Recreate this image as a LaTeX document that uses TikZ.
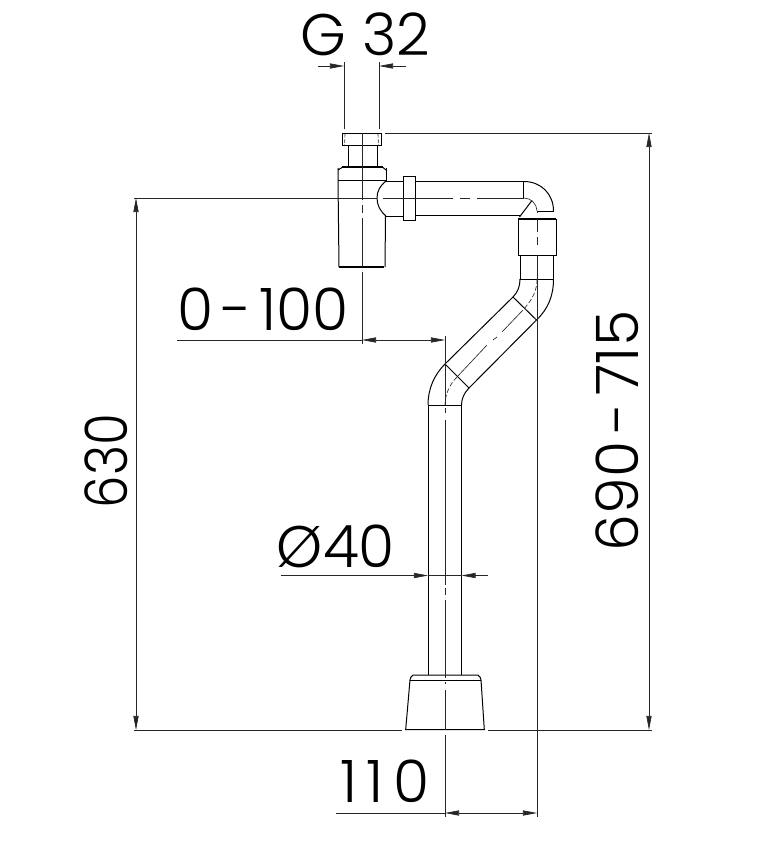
\documentclass[tikz,border=0pt]{standalone}
\usepackage{fontspec}
\setmainfont{Poppins Light}
\newfontfamily\dimspaced[WordSpace=0.5]{Poppins Light}
\usetikzlibrary{arrows.meta}

\begin{document}
\begin{tikzpicture}[x=0.03cm, y=-0.03cm]
\def\dimfontsize{\fontsize{50}{50}\selectfont}
\tikzset{
  outline/.style={draw=black, line width=0.85pt},
  heavy/.style={draw=black, line width=2.2pt},
  thinline/.style={draw=black!85, line width=0.55pt},
  dimline/.style={thinline, {Triangle[length=12pt, width=4.4pt]}-{Triangle[length=12pt, width=4.4pt]}},
  tipline/.style={thinline, -{Triangle[length=12pt, width=4.4pt]}},
  dimtext/.style={inner sep=0pt, text=black, font=\dimfontsize},
}
\useasboundingbox (0,0) rectangle (763,856);

\begin{scope} % TRAP
\draw[outline] (342,133) rectangle (381,145);
\draw[thinline, dash pattern=on 3pt off 1.5pt] (345,134) -- (344.5,145);
\draw[thinline, dash pattern=on 3pt off 1.5pt] (378,134) -- (378.5,145);
\draw[outline] (348.5,145) -- (348.5,166);
\draw[outline] (377,145) -- (377,166);
\draw[heavy] (342,167) -- (383,167);
\draw[outline] (338,170) -- (342,167.5);
\draw[outline] (386,170) -- (383,167.5);
\draw[outline] (338,168) -- (338,180) -- (339,267);
\draw[outline] (386,168) -- (386,181);
\draw[outline] (338,180) -- (386,180);
\draw[outline] (385.5,216) -- (385,267);
\draw[heavy] (339,267) -- (384,267);
\draw[outline] (386,181) .. controls (380,186) and (377,191) .. (377,198) .. controls (377,205) and (380,211) .. (386,216);
\end{scope}

\begin{scope} % BRANCH AND ELBOW
\draw[outline] (386,181) -- (403,181);
\draw[outline] (386,216) -- (403,216);
\draw[outline] (403,176) rectangle (415,220);
\draw[outline] (415,181.5) -- (524,181.5);
\draw[outline] (415,215) -- (520,215);
\draw[outline] (523.5,181.5) -- (523.5,198);
\draw[outline] (524,181.5) .. controls (541,181.5) and (553.5,194) .. (553.5,211);
\draw[outline] (519.5,217) -- (532,200.5);
\draw[outline] (537,211) -- (553.5,211);
\draw[thinline] (524,198) .. controls (531,198) and (537,204) .. (537,211);
\draw[heavy] (518,219) -- (556,219);
\draw[outline] (518,219) rectangle (556,255);
\end{scope}

\begin{scope} % OFFSET PIPE
\draw[outline] (520,255) -- (520,279);
\draw[outline] (553.5,255) -- (553.5,279);
\draw[outline] (520,279) -- (553.5,279);
\draw[outline] (520,279) .. controls (520,286) and (518,292) .. (513,297);
\draw[outline] (553.5,279) .. controls (553.5,296) and (548,309) .. (536.5,320);
\draw[outline] (513,297) -- (536.5,320);
\draw[outline] (513,297) -- (445,364);
\draw[outline] (536.5,320) -- (469,388);
\draw[outline] (445,364) -- (469,388);
\draw[outline] (445,364) .. controls (434,375) and (428,389) .. (428,405);
\draw[outline] (469,388) .. controls (464,393) and (461.5,399) .. (461.5,405);
\draw[outline] (428,405) -- (461.5,405);
\draw[outline] (428,405) -- (428,675);
\draw[outline] (461.5,405) -- (461.5,675);
\end{scope}

\begin{scope} % FOOT
\draw[outline] (410,680) -- (410.7,677.5) -- (413,675) -- (478,675) -- (480.3,677.5) -- (481,680);
\draw[outline] (410,680) -- (481,680);
\draw[outline] (410,680) -- (405.7,729.5) -- (484.3,729.5) -- (481,680);
\end{scope}

\begin{scope} % CENTRE LINES
\draw[thinline] (362,133) -- (362,200);
\draw[thinline] (362,205) -- (362,213);
\draw[thinline] (362,218) -- (362,267);
\draw[thinline] (383,198) -- (453,198);
\draw[thinline] (460,198) -- (470,198);
\draw[thinline] (477,198) -- (524,198);
\draw[thinline] (537,211) -- (537,213);
\draw[thinline] (537,219) -- (537,232);
\draw[thinline] (537,237) -- (537,245);
\draw[thinline, dash pattern=on 4pt off 2pt] (537,279) .. controls (537,290) and (533,299) .. (523,310);
\draw[thinline] (523,310) -- (502,332);
\draw[thinline] (497,337) -- (493,340);
\draw[thinline] (487,345) -- (457,377);
\draw[thinline, dash pattern=on 4pt off 2pt] (457,377) .. controls (450,384) and (445,394) .. (445,405);
\draw[thinline] (445,408) -- (445,413);
\draw[thinline] (445,420) -- (445,585);
\draw[thinline] (445,588) -- (445,595);
\draw[thinline] (445,600) -- (445,678);
\draw[thinline] (445,682) -- (445,684);
\draw[thinline] (445,690) -- (445,730);
\end{scope}

\begin{scope} % G 32
\node[dimtext] (labelg) at (365,34) {G 32};
\coordinate (gleft) at (344,66);
\coordinate (gright) at (379,66);
\draw[thinline] (344,62) -- (344,129);
\draw[thinline] (379,62) -- (379,129);
\coordinate (gleftend) at (318,66);
\coordinate (grightend) at (406,66);
\draw[tipline] (gleftend) -- (gleft);
\draw[tipline] (grightend) -- (gright);
\end{scope}

\begin{scope} % 630
\node[dimtext, rotate=90, xscale=0.88] (labelheight) at (106,461) {630};
\coordinate (heighttop) at (136,198);
\coordinate (heightbottom) at (136,730);
\draw[dimline] (heighttop) -- (heightbottom);
\draw[thinline] (134,198) -- (377,198);
\draw[thinline] (134,730) -- (402,730);
\end{scope}

\begin{scope} % 690 - 715
\node[dimtext, rotate=90] (labeltotal) at (617,431) {\dimspaced 690 - 715};
\coordinate (totaltop) at (649,133);
\coordinate (totalbottom) at (649,730);
\draw[dimline] (totaltop) -- (totalbottom);
\draw[thinline] (385,133) -- (652,133);
\draw[thinline] (488,730) -- (652,730);
\end{scope}

\begin{scope} % 0 - 100
\node[dimtext] (labeloffset) at (263,309) {\dimspaced 0 - 100};
\coordinate (offsetleft) at (362,340);
\coordinate (offsetright) at (445,340);
\draw[dimline] (offsetleft) -- (offsetright);
\draw[thinline] (177,340) -- (offsetleft);
\draw[thinline] (362,272) -- (362,344);
\draw[thinline] (445,336) -- (445,405);
\end{scope}

\begin{scope} % DIAMETER 40
\node[dimtext] (labelpipe) at (336,546) {Ø40};
\coordinate (pipeleft) at (428,575.5);
\coordinate (piperight) at (461.5,575.5);
\coordinate (pipeleftend) at (281,575.5);
\coordinate (piperightend) at (488,575.5);
\draw[tipline] (pipeleftend) -- (pipeleft);
\draw[tipline] (piperightend) -- (piperight);
\draw[thinline] (pipeleft) -- (piperight);
\end{scope}

\begin{scope} % 110
\node[dimtext] (labelreach) at (385,781) {1\kern8pt 1\kern8pt 0};
\coordinate (reachleft) at (445,813);
\coordinate (reachright) at (537,813);
\draw[dimline] (reachleft) -- (reachright);
\draw[thinline] (336,813) -- (reachleft);
\draw[thinline] (445,735) -- (445,817);
\draw[thinline] (537,255) -- (537,817);
\end{scope}
\end{tikzpicture}
\end{document}
